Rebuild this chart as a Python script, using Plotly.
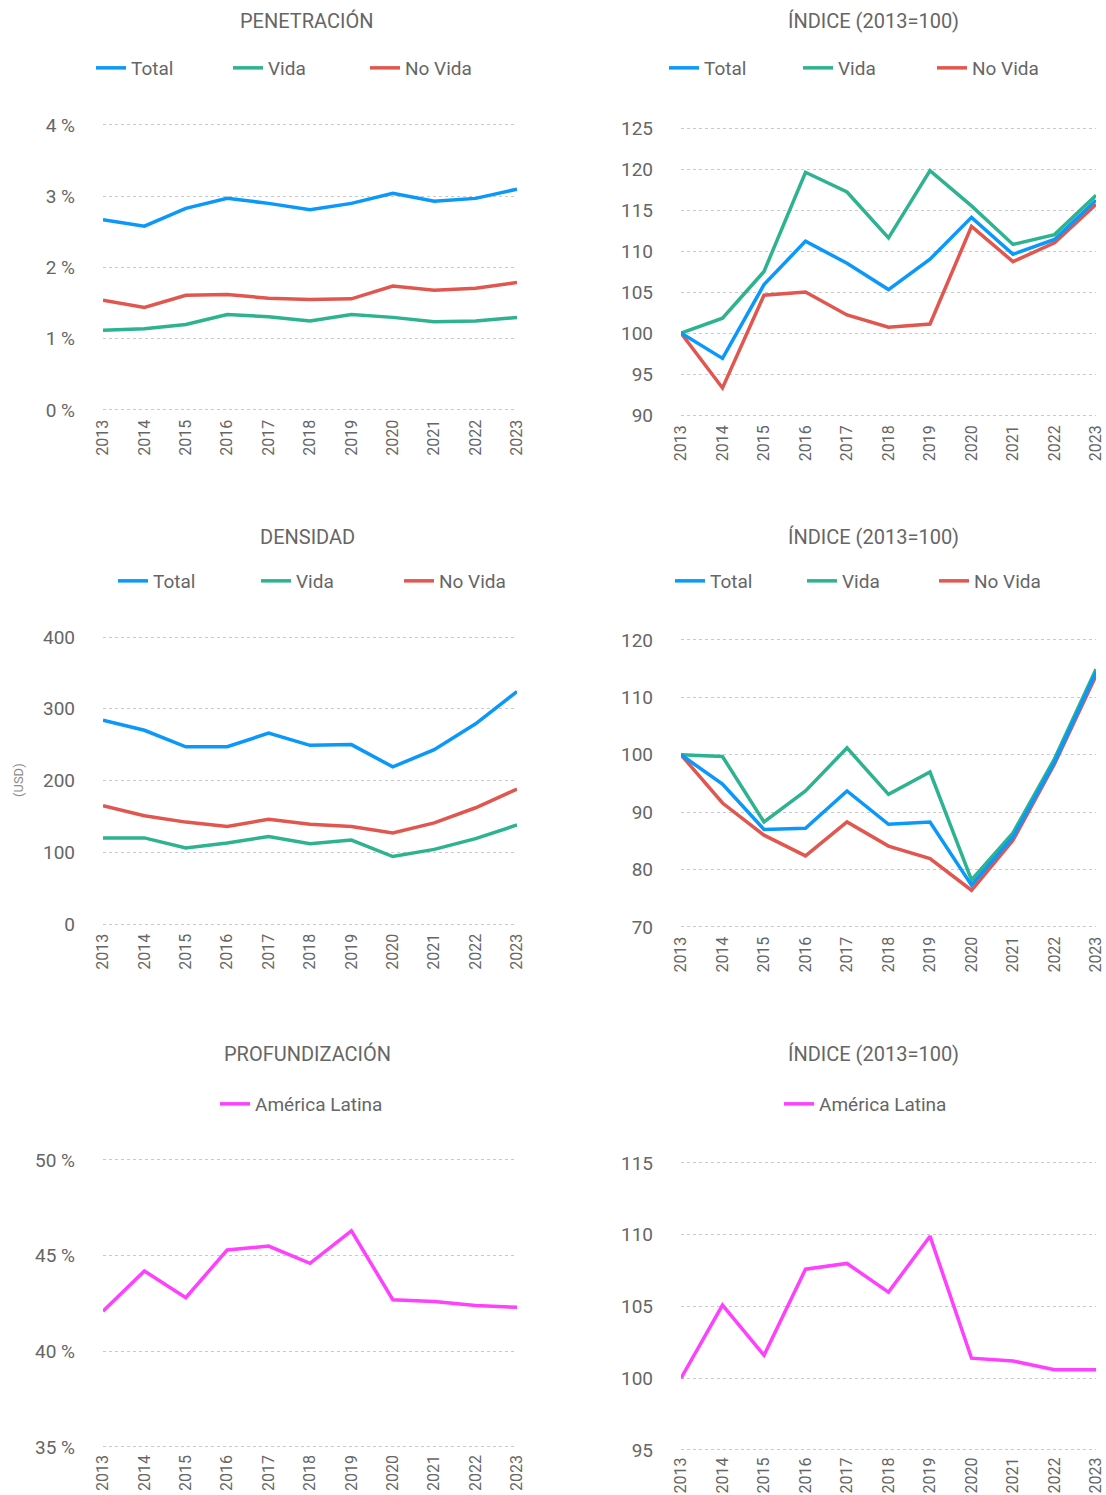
import plotly.graph_objects as go

W, H = 1106, 1495
years = list(range(2013, 2024))

# Penetración (% del PIB)
pen_total = [2.67, 2.58, 2.83, 2.97, 2.90, 2.81, 2.90, 3.04, 2.93, 2.97, 3.10]
pen_vida = [1.12, 1.14, 1.20, 1.34, 1.31, 1.25, 1.34, 1.30, 1.24, 1.25, 1.30]
pen_novida = [1.54, 1.44, 1.61, 1.62, 1.57, 1.55, 1.56, 1.74, 1.68, 1.71, 1.79]

# Índice penetración (2013=100)
pen_idx_total = [100, 96.9, 105.9, 111.2, 108.5, 105.3, 109.0, 114.1, 109.6, 111.4, 116.2]
pen_idx_vida = [100, 101.8, 107.5, 119.6, 117.2, 111.6, 119.8, 115.5, 110.8, 112.0, 116.8]
pen_idx_novida = [100, 93.3, 104.6, 105.0, 102.2, 100.7, 101.1, 113.0, 108.7, 111.0, 115.7]

# Densidad (USD)
den_total = [284, 270, 247, 247, 266, 249, 250, 219, 243, 279, 324]
den_vida = [120, 120, 106, 113, 122, 112, 117, 94, 104, 119, 138]
den_novida = [165, 151, 142, 136, 146, 139, 136, 127, 141, 162, 188]

# Índice densidad (2013=100)
den_idx_total = [100, 94.9, 87.0, 87.2, 93.7, 87.9, 88.3, 77.3, 85.7, 98.7, 114.4]
den_idx_vida = [100, 99.7, 88.3, 93.7, 101.2, 93.1, 97.0, 78.2, 86.4, 99.3, 114.9]
den_idx_novida = [100, 91.6, 86.0, 82.4, 88.3, 84.1, 81.9, 76.4, 85.1, 98.4, 113.8]

# Profundización (%)
prof = [42.1, 44.2, 42.8, 45.3, 45.5, 44.6, 46.3, 42.7, 42.6, 42.4, 42.3]
prof_idx = [100, 105.1, 101.6, 107.6, 108.0, 106.0, 109.9, 101.4, 101.2, 100.6, 100.6]

titles = ["PENETRACIÓN", "ÍNDICE (2013=100)", "DENSIDAD", "ÍNDICE (2013=100)",
          "PROFUNDIZACIÓN", "ÍNDICE (2013=100)"]
series_names = ["Total", "Vida", "No Vida"]
region_name = "América Latina"

C_TOTAL = "#0A98FA"
C_VIDA = "#2DB38F"
C_NOVIDA = "#E1574F"
C_AL = "#FF40FF"
TXT = "#666666"
GRID = "#C9C9C9"
FONT = "Roboto"

fig = go.Figure()

def py(px):
    return 1 - px / H

def ydom(v_top, px_top, v_bot, px_bot, pad):
    s = (px_bot - px_top) / (v_top - v_bot)
    top = px_top - pad * s
    bot = px_bot + pad * s
    return [py(bot), py(top)], [v_bot - pad, v_top + pad]

xL = [103 / W, 517 / W]
xR = [681 / W, 1096 / W]

panels = [
    (xL, ydom(4, 125, 0, 410, 0.05), [0, 1, 2, 3, 4], " %"),
    (xR, ydom(125, 128, 90, 415, 0.5), [90, 95, 100, 105, 110, 115, 120, 125], ""),
    (xL, ydom(400, 637, 0, 924, 5), [0, 100, 200, 300, 400], ""),
    (xR, ydom(120, 640, 70, 927, 0.6), [70, 80, 90, 100, 110, 120], ""),
    (xL, ydom(50, 1160, 35, 1447, 0.1), [35, 40, 45, 50], " %"),
    (xR, ydom(115, 1163, 95, 1450, 0.1), [95, 100, 105, 110, 115], ""),
]

data_sets = [
    [pen_total, pen_vida, pen_novida],
    [pen_idx_total, pen_idx_vida, pen_idx_novida],
    [den_total, den_vida, den_novida],
    [den_idx_total, den_idx_vida, den_idx_novida],
    [prof],
    [prof_idx],
]

legend_specs = [
    (91, 68, 92), (664, 68, 89), (113, 581, 98), (670, 581, 87), (215, 1104, 0), (779, 1104, 0)
]

for i, (xd, (yd, yr), tv, suf) in enumerate(panels):
    n = "" if i == 0 else str(i + 1)
    xa, ya = "x" + n, "y" + n
    lg = "legend" + n
    ds = data_sets[i]
    if len(ds) == 3:
        order = [(2, C_NOVIDA), (1, C_VIDA), (0, C_TOTAL)]
        for k, col in order:
            fig.add_trace(go.Scatter(
                x=years, y=ds[k], mode="lines", name=series_names[k],
                line=dict(color=col, width=3.5), xaxis=xa, yaxis=ya,
                legend=lg, legendrank=k + 1, hoverinfo="x+y+name"))
    else:
        fig.add_trace(go.Scatter(
            x=years, y=ds[0], mode="lines", name=region_name,
            line=dict(color=C_AL, width=3.5), xaxis=xa, yaxis=ya,
            legend=lg, hoverinfo="x+y+name"))

    fig.layout["xaxis" + n] = dict(
        domain=xd, anchor=ya, range=[2013, 2023], tickmode="array", tickvals=years,
        ticktext=[str(y) for y in years], tickangle=-90, showgrid=False, zeroline=False,
        showline=False, ticks="", tickfont=dict(family=FONT, size=16, color=TXT),
        ticklabelstandoff=2, fixedrange=True, automargin=False)
    fig.layout["yaxis" + n] = dict(
        domain=yd, anchor=xa, range=yr, tickmode="array", tickvals=tv,
        ticktext=[f"{v}{suf}" for v in tv], showgrid=True, gridcolor=GRID,
        griddash="dot", gridwidth=1, zeroline=False, showline=False, ticks="",
        tickfont=dict(family=FONT, size=19, color=TXT), ticklabelstandoff=27,
        fixedrange=True, automargin=False)

    lx, ly, ew = legend_specs[i]
    leg = dict(orientation="h", x=lx / W, y=py(ly), xanchor="left", yanchor="middle",
               font=dict(family=FONT, size=19, color=TXT), bgcolor="rgba(0,0,0,0)",
               itemclick=False, itemdoubleclick=False, traceorder="normal")
    if ew:
        leg["entrywidth"] = ew
        leg["entrywidthmode"] = "pixels"
    fig.layout[lg] = leg

title_pos = [(307, 21), (873, 21), (307, 537), (873, 537), (307, 1054), (873, 1054)]
for t, (tx, ty) in zip(titles, title_pos):
    fig.add_annotation(text=t, x=tx / W, y=py(ty), xref="paper", yref="paper",
                       showarrow=False, xanchor="center", yanchor="middle",
                       font=dict(family=FONT, size=20, color=TXT))

fig.add_annotation(text="(USD)", x=18 / W, y=py(780), xref="paper", yref="paper",
                   showarrow=False, textangle=-90, xanchor="center", yanchor="middle",
                   font=dict(family=FONT, size=13, color="#8a8a8a"))

fig.update_layout(
    width=W, height=H, margin=dict(l=0, r=0, t=0, b=0, autoexpand=False),
    paper_bgcolor="white", plot_bgcolor="white", showlegend=True,
    font=dict(family=FONT, color=TXT))

fig.write_html("out.html", config={"displayModeBar": False},
               post_script="document.body.style.margin='0';document.body.style.overflow='hidden';")
